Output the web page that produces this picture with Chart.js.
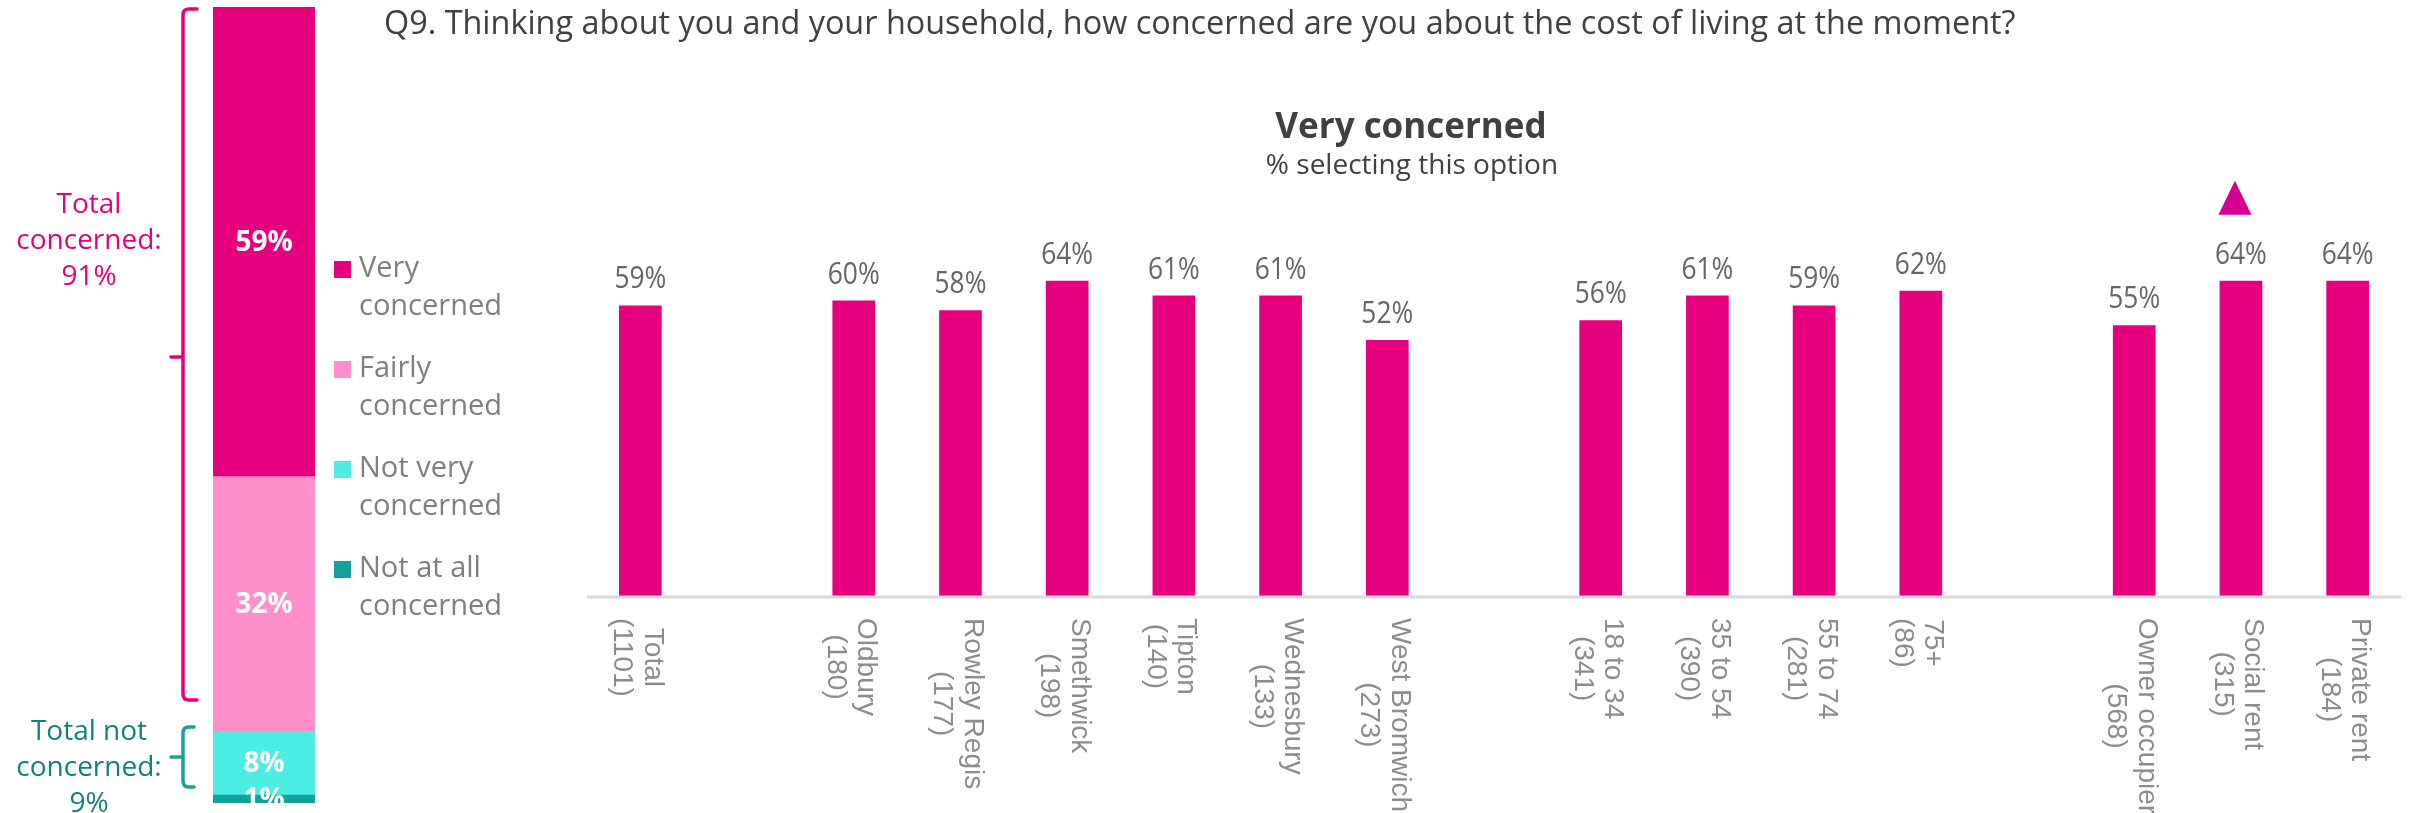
<!DOCTYPE html>
<html>
<head>
<meta charset="utf-8">
<title>Q9 cost of living concern</title>
<script src="https://cdn.jsdelivr.net/npm/chart.js@4.4.1/dist/chart.umd.min.js"></script>
<style>
  html, body { margin: 0; padding: 0; background: #fff; overflow: hidden; }
  #wrap { position: relative; width: 2414px; height: 813px; overflow: hidden; }
  #mainChart, #stackChart { position: absolute; left: 0; top: 0; }
</style>
</head>
<body>
<div id="wrap">
  <canvas id="mainChart" width="2414" height="813"></canvas>
  <canvas id="stackChart" width="560" height="813"></canvas>
</div>
<script>
// overall answer split (Total sample)
const stackLabels = ['Very concerned', 'Fairly concerned', 'Not very concerned', 'Not at all concerned'];
const stackValues = [59, 32, 8, 1];
const stackColours = ['#e6007e', '#ff8fca', '#4eede3', '#12a19b'];

// "Very concerned" by subgroup - empty entries are the gaps between groups
const categories = ['Total', '', 'Oldbury', 'Rowley Regis', 'Smethwick', 'Tipton', 'Wednesbury', 'West Bromwich', '',
    '18 to 34', '35 to 54', '55 to 74', '75+', '', 'Owner occupier', 'Social rent', 'Private rent'];
const baseSizes = ['(1101)', '', '(180)', '(177)', '(198)', '(140)', '(133)', '(273)', '',
    '(341)', '(390)', '(281)', '(86)', '', '(568)', '(315)', '(184)'];
const veryConcerned = [59, null, 60, 58, 64, 61, 61, 52, null, 56, 61, 59, 62, null, 55, 64, 64];
const sigHigher = ['Social rent'];

const FONT = '"Open Sans", "Noto Sans", sans-serif';
const PINK = '#e6007e';
const TEAL_TEXT = '#13817a';
const TEAL_LINE = '#17a39b';

function drawBrace(ctx, x, top, bottom, mid, hook, tick, colour) {
    const r = 6;
    ctx.save();
    ctx.strokeStyle = colour;
    ctx.lineWidth = 3.5;
    ctx.lineCap = 'round';
    ctx.beginPath();
    ctx.moveTo(x + hook, top);
    ctx.lineTo(x + r, top);
    ctx.quadraticCurveTo(x, top, x, top + r);
    ctx.lineTo(x, bottom - r);
    ctx.quadraticCurveTo(x, bottom, x + r, bottom);
    ctx.lineTo(x + hook, bottom);
    ctx.moveTo(x, mid);
    ctx.lineTo(x - tick, mid);
    ctx.stroke();
    ctx.restore();
}

function centredLines(ctx, lines, x, y0, step) {
    lines.forEach((l, i) => ctx.fillText(l, x, y0 + i * step));
}

// ---------- left stacked bar ----------
const stackDecor = {
    id: 'stackDecor',
    afterDatasetsDraw(chart) {
        const ctx = chart.ctx;
        const area = chart.chartArea;

        // segment labels, clipped to the bar like the original
        ctx.save();
        ctx.beginPath();
        ctx.rect(area.left, area.top, area.right - area.left, area.bottom - area.top);
        ctx.clip();
        ctx.fillStyle = '#ffffff';
        ctx.font = 'bold 28px ' + FONT;
        ctx.textAlign = 'center';
        ctx.textBaseline = 'middle';
        chart.data.datasets.forEach((ds, i) => {
            const el = chart.getDatasetMeta(i).data[0];
            ctx.fillText(ds.data[0] + '%', el.x, (el.y + el.base) / 2 + 1);
        });
        ctx.restore();

        ctx.save();
        // braces + totals
        drawBrace(ctx, 183, 9, 700, 357, 14, 12, PINK);
        drawBrace(ctx, 183, 727, 787, 757, 11, 12, TEAL_LINE);

        ctx.font = '28px ' + FONT;
        ctx.textAlign = 'center';
        ctx.textBaseline = 'middle';
        ctx.fillStyle = PINK;
        centredLines(ctx, ['Total', 'concerned:', '91%'], 89, 205, 36);
        ctx.fillStyle = TEAL_TEXT;
        centredLines(ctx, ['Total not', 'concerned:', '9%'], 89, 732, 36);

        // legend, two lines per entry
        ctx.font = '29px ' + FONT;
        ctx.textAlign = 'left';
        stackLabels.forEach((lab, i) => {
            const y = 269 + i * 100;
            const cut = lab.lastIndexOf(' ');
            ctx.fillStyle = stackColours[i];
            ctx.fillRect(334, y - 8, 17, 17);
            ctx.fillStyle = '#7f7f7f';
            ctx.fillText(lab.slice(0, cut), 359, y);
            ctx.fillText(lab.slice(cut + 1), 359, y + 38);
        });
        ctx.restore();
    }
};

new Chart(document.getElementById('stackChart'), {
    type: 'bar',
    data: {
        labels: ['Total'],
        // bottom of the stack first
        datasets: stackLabels.map((lab, i) => ({
            label: lab,
            data: [stackValues[i]],
            backgroundColor: stackColours[i],
            barPercentage: 1,
            categoryPercentage: 1
        })).reverse()
    },
    options: {
        responsive: false,
        animation: false,
        devicePixelRatio: 1,
        layout: { padding: { left: 213, right: 245, top: 7, bottom: 10 } },
        scales: {
            x: { stacked: true, display: false },
            y: { stacked: true, display: false, min: 0, max: 100 }
        },
        plugins: { legend: { display: false }, tooltip: { enabled: false } }
    },
    plugins: [stackDecor]
});

// ---------- main bar chart ----------
const mainDecor = {
    id: 'mainDecor',
    afterDatasetsDraw(chart) {
        const ctx = chart.ctx;
        const area = chart.chartArea;
        const meta = chart.getDatasetMeta(0);
        ctx.save();

        // titles
        ctx.fillStyle = '#404040';
        ctx.textBaseline = 'alphabetic';
        ctx.textAlign = 'left';
        ctx.font = '32.4px ' + FONT;
        ctx.fillText('Q9. Thinking about you and your household, how concerned are you about the cost of living at the moment?', 384, 34);
        ctx.textAlign = 'center';
        ctx.font = 'bold 35px ' + FONT;
        ctx.fillText('Very concerned', 1411, 138);
        ctx.font = '28px ' + FONT;
        ctx.fillText('% selecting this option', 1412, 174);

        // axis line
        ctx.strokeStyle = '#d9d9d9';
        ctx.lineWidth = 3;
        ctx.beginPath();
        ctx.moveTo(area.left, area.bottom + 1);
        ctx.lineTo(area.right, area.bottom + 1);
        ctx.stroke();

        // value labels + significance marker
        veryConcerned.forEach((v, i) => {
            if (v === null) return;
            const el = meta.data[i];
            ctx.save();
            ctx.translate(el.x, el.y - 17);
            ctx.scale(0.85, 1);
            ctx.fillStyle = '#666666';
            ctx.font = '31px ' + FONT;
            ctx.textAlign = 'center';
            ctx.fillText(v + '%', 0, 0);
            ctx.restore();
            if (sigHigher.includes(categories[i])) {
                const cx = el.x - 6, b = el.y - 66;
                ctx.fillStyle = '#d4008f';
                ctx.beginPath();
                ctx.moveTo(cx - 16.5, b);
                ctx.lineTo(cx + 16.5, b);
                ctx.lineTo(cx, b - 34);
                ctx.closePath();
                ctx.fill();
            }
        });

        // rotated category labels, reading downwards
        const xs = chart.scales.x;
        ctx.font = '28px "Liberation Sans", Arial, sans-serif';
        ctx.fillStyle = '#8c8c8c';
        categories.forEach((name, i) => {
            if (!name) return;
            const lines = [name, baseSizes[i]];
            const w = Math.max(...lines.map(l => ctx.measureText(l).width));
            ctx.save();
            ctx.translate(xs.getPixelForValue(i), area.bottom + 22);
            ctx.rotate(Math.PI / 2);
            ctx.textAlign = 'center';
            ctx.fillText(lines[0], w / 2, -4.5);
            ctx.fillText(lines[1], w / 2, 26);
            ctx.restore();
        });
        ctx.restore();
    }
};

new Chart(document.getElementById('mainChart'), {
    type: 'bar',
    data: {
        labels: categories,
        datasets: [{
            label: 'Very concerned',
            data: veryConcerned,
            backgroundColor: PINK,
            barPercentage: 0.8,
            categoryPercentage: 0.5
        }]
    },
    options: {
        responsive: false,
        animation: false,
        devicePixelRatio: 1,
        layout: { padding: { left: 587, right: 13, top: 202, bottom: 217 } },
        scales: {
            x: { display: false },
            y: { display: false, min: 0, max: 80 }
        },
        plugins: { legend: { display: false }, tooltip: { enabled: false } }
    },
    plugins: [mainDecor]
});
</script>
</body>
</html>
